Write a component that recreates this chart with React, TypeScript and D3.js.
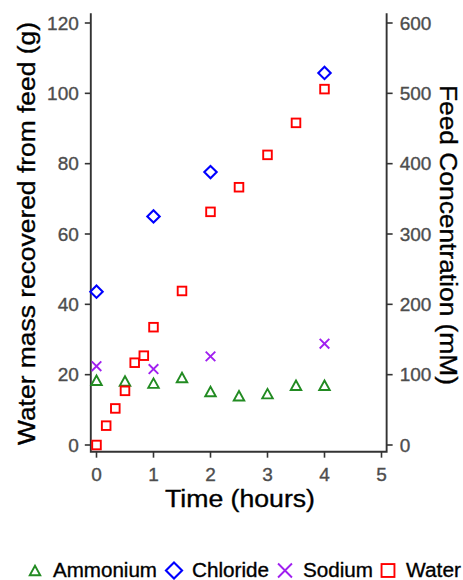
import React from 'react';
import * as d3 from 'd3';

const timeTicks = [0, 1, 2, 3, 4, 5];
const leftTicks = [0, 20, 40, 60, 80, 100, 120];
const rightTicks = [0, 100, 200, 300, 400, 500, 600];

const waterTime = [0, 0.17, 0.33, 0.5, 0.67, 0.83, 1, 1.5, 2, 2.5, 3, 3.5, 4];
const waterMass = [0, 5.5, 10.4, 15.4, 23.4, 25.4, 33.5, 43.8, 66.3, 73.3, 82.5, 91.6, 101.2];
const chlorideTime = [0, 1, 2, 4];
const chlorideConc = [218, 325, 388, 529];
const sodiumTime = [0, 1, 2, 4];
const sodiumConc = [112, 108, 126, 144];
const ammoniumTime = [0, 0.5, 1, 1.5, 2, 2.5, 3, 3.5, 4];
const ammoniumConc = [92, 91, 88, 96, 76, 70, 73, 85, 85];
const legendLabels = ['Ammonium', 'Chloride', 'Sodium', 'Water'];

const W = 463, H = 580;
const FONT = 'Liberation Sans, Arial, sans-serif';
const AXIS = '#333333';
const TICKTXT = '#4D4D4D';
const COLORS = { Ammonium: '#228B22', Chloride: '#0000FF', Sodium: '#A020F0', Water: '#FF0000' };

function Marker({ kind, cx, cy, s = 1 }: { kind: string; cx: number; cy: number; s?: number }) {
  const sw = 1.9;
  if (kind === 'Ammonium') {
    const w = 10.5 * s, h = 9.5 * s;
    const p = `M${cx},${cy - h / 2}L${cx + w / 2},${cy + h / 2}L${cx - w / 2},${cy + h / 2}Z`;
    return <path d={p} fill="none" stroke={COLORS.Ammonium} strokeWidth={sw} strokeLinejoin="miter" />;
  }
  if (kind === 'Chloride') {
    const r = 6.2 * s;
    const p = `M${cx},${cy - r}L${cx + r},${cy}L${cx},${cy + r}L${cx - r},${cy}Z`;
    return <path d={p} fill="none" stroke={COLORS.Chloride} strokeWidth={sw + 0.2} />;
  }
  if (kind === 'Sodium') {
    const r = 4.8 * s;
    const p = `M${cx - r},${cy - r}L${cx + r},${cy + r}M${cx - r},${cy + r}L${cx + r},${cy - r}`;
    return <path d={p} fill="none" stroke={COLORS.Sodium} strokeWidth={sw} />;
  }
  const a = 4.3 * s;
  return <rect x={cx - a} y={cy - a} width={2 * a} height={2 * a} fill="none" stroke={COLORS.Water} strokeWidth={sw} />;
}

export default function App() {
  const x = d3.scaleLinear().domain([0, 5]).range([96.5, 381.5]);
  const yL = d3.scaleLinear().domain([0, 120]).range([445, 23]);
  const yR = d3.scaleLinear().domain([0, 600]).range([445, 23]);

  const xLeft = x(-0.1), xRight = x(5.09);
  const yBottom = yL(-1.9), yTop = yL(122.8);

  const legFont = 20.5;
  const legendStarts = [35, 174, 285, 388];
  const legendWidths = [104, 77, 70, 55];
  const legendScale = [1.0, 1.3, 1.45, 1.5];

  const txtStroke = { stroke: 'currentColor', strokeWidth: 0.35 } as const;

  return (
    <svg width={W} height={H} style={{ position: 'absolute', left: 0, top: 0, background: '#fff' }} fontFamily={FONT}>
      <rect width={W} height={H} fill="#fff" />
      <path d={`M${xLeft},${yTop}V${yBottom}H${xRight}V${yTop}`} fill="none" stroke={AXIS} strokeWidth={1.9} />
      <g color={TICKTXT}>
        {leftTicks.map((t) => (
          <g key={'l' + t}>
            <line x1={xLeft - 6} x2={xLeft} y1={yL(t)} y2={yL(t)} stroke={AXIS} strokeWidth={1.6} />
            <text x={xLeft - 12} y={yL(t)} dy="0.35em" textAnchor="end" fontSize={19} fill={TICKTXT} {...txtStroke}>{t}</text>
          </g>
        ))}
        {rightTicks.map((t) => (
          <g key={'r' + t}>
            <line x1={xRight} x2={xRight + 6} y1={yR(t)} y2={yR(t)} stroke={AXIS} strokeWidth={1.6} />
            <text x={xRight + 13} y={yR(t)} dy="0.35em" textAnchor="start" fontSize={19} fill={TICKTXT} {...txtStroke}>{t}</text>
          </g>
        ))}
        {timeTicks.map((t) => (
          <g key={'b' + t}>
            <line x1={x(t)} x2={x(t)} y1={yBottom} y2={yBottom + 6} stroke={AXIS} strokeWidth={1.6} />
            <text x={x(t)} y={480.5} textAnchor="middle" fontSize={19} fill={TICKTXT} {...txtStroke}>{t}</text>
          </g>
        ))}
      </g>
      <g color="#000">
        <text x={240} y={507} textAnchor="middle" fontSize={23.5} textLength={150} lengthAdjust="spacingAndGlyphs" fill="#000" {...txtStroke}>Time (hours)</text>
        <text transform={`translate(34.5,233.5) rotate(-90)`} textAnchor="middle" fontSize={23.5} textLength={423} lengthAdjust="spacingAndGlyphs" fill="#000" {...txtStroke}>Water mass recovered from feed (g)</text>
        <text transform={`translate(440,235) rotate(90)`} textAnchor="middle" fontSize={23} textLength={300} lengthAdjust="spacingAndGlyphs" fill="#000" {...txtStroke}>Feed Concentration (mM)</text>
      </g>
      {ammoniumTime.map((t, i) => <Marker key={'a' + i} kind="Ammonium" cx={x(t)} cy={yR(ammoniumConc[i])} />)}
      {chlorideTime.map((t, i) => <Marker key={'c' + i} kind="Chloride" cx={x(t)} cy={yR(chlorideConc[i])} />)}
      {sodiumTime.map((t, i) => <Marker key={'s' + i} kind="Sodium" cx={x(t)} cy={yR(sodiumConc[i])} />)}
      {waterTime.map((t, i) => <Marker key={'w' + i} kind="Water" cx={x(t)} cy={yL(waterMass[i])} />)}
      <g color="#000">
        {legendLabels.map((lab, i) => (
          <g key={lab}>
            <Marker kind={lab} cx={legendStarts[i]} cy={570.5} s={legendScale[i]} />
            <text x={legendStarts[i] + 18} y={576.5} fontSize={legFont} textLength={legendWidths[i]} lengthAdjust="spacingAndGlyphs" fill="#000" {...txtStroke}>{lab}</text>
          </g>
        ))}
      </g>
    </svg>
  );
}
